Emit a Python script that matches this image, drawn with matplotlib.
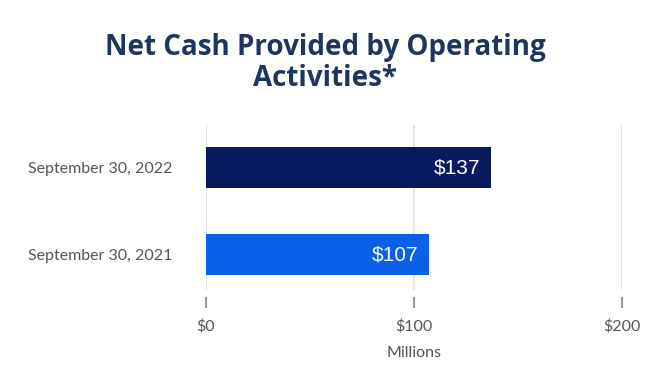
import matplotlib
matplotlib.use("Agg")
import matplotlib.pyplot as plt
import matplotlib.transforms as mtransforms

categories = ["September 30, 2021", "September 30, 2022"]
values = [107, 137]
bar_colors = ["#0a60e8", "#0a1a5e"]
value_labels = ["$107", "$137"]
xticks = [0, 100, 200]
xtick_labels = ["$0", "$100", "$200"]

fig = plt.figure(figsize=(6.5, 3.9), dpi=100)
ax = fig.add_axes([206 / 650, 1 - 290 / 390, 416 / 650, 165 / 390])

ypos = list(range(len(categories)))
ax.barh(ypos, values, height=0.47, color=bar_colors, zorder=3)
ax.set_xlim(0, 200)
ax.set_ylim(-0.408, 1.489)

# value labels inside bar ends
for y, v, lab in zip(ypos, values, value_labels):
    ax.text(v - 5, y, lab, color="white", ha="right", va="center",
            fontsize=15, family="Liberation Sans", zorder=4)

ax.set_yticks(ypos)
ax.set_yticklabels(categories, fontsize=11.5, color="#555555", family="Lato")
ax.set_xticks(xticks)
ax.set_xticklabels(xtick_labels, fontsize=11.5, color="#555555", family="Lato")
ax.tick_params(length=0)
ax.tick_params(axis="y", pad=24)
ax.tick_params(axis="x", pad=21)

for s in ax.spines.values():
    s.set_visible(False)
ax.grid(axis="x", color="#e6e6e6", linewidth=1.5, zorder=0)
ax.grid(axis="y", visible=False)

# short tick marks below the plot area
trans = mtransforms.blended_transform_factory(ax.transData, ax.transAxes)
ax.vlines(xticks, -0.11, -0.045, transform=trans, color="#999999",
          linewidth=1.5, clip_on=False)

ax.set_xlabel("Millions", fontsize=11.5, color="#555555", family="Lato", labelpad=9)

title_kw = dict(ha="center", va="center", fontsize=20, fontweight="bold",
                color="#1e3560", family="Open Sans")
fig.text(0.5, 1 - 48 / 390, "Net Cash Provided by Operating", **title_kw)
fig.text(0.5, 1 - 79 / 390, "Activities*", **title_kw)

fig.savefig("out.png", dpi=100)
